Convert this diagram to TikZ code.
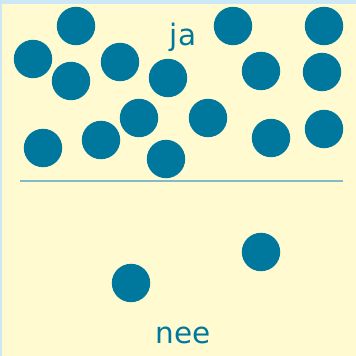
\documentclass[tikz,border=0pt]{standalone}
\usepackage{fontspec}
\setmainfont{DejaVu Sans}
\usepackage{xcolor}
\usetikzlibrary{positioning}

\definecolor{dotblue}{RGB}{0,120,158}
\definecolor{paper}{RGB}{255,250,208}
\definecolor{frameblue}{RGB}{204,232,246}
\definecolor{lineblue}{RGB}{130,186,202}

\begin{document}
\begin{tikzpicture}[
    x=1pt, y=-1pt,
    dot/.style={fill=dotblue, draw=none},
    answer/.style={anchor=base, text=dotblue, font=\fontsize{29.5}{31}\selectfont, inner sep=0pt},
    divider/.style={draw=lineblue, line width=2.4pt}
  ]
    % background
    \useasboundingbox (0,0) rectangle (356,356);
    \fill[frameblue] (0,0) rectangle (356,356);
    \fill[paper] (1.5,3.5) rectangle (356,356);

    % dots
    \foreach \px/\py in {76/26, 33/59, 71/81, 120/62, 168/78, 233/26, 324/26,
                         261/71, 322/72, 139/118, 208/118, 43/148, 101/140,
                         166/159, 271/138, 324/129, 261/252, 131/283}
      \fill[dot] (\px,\py) circle (19.2);

    % dividing line
    \coordinate (lineL) at (20,181);
    \coordinate (lineR) at (343,181);
    \draw[divider] (lineL) -- (lineR);

    % labels
    \node[answer] (ja) at (183,45) {ja};
    \node[answer] (nee) at (183,343) {nee};
  \end{tikzpicture}
\end{document}
